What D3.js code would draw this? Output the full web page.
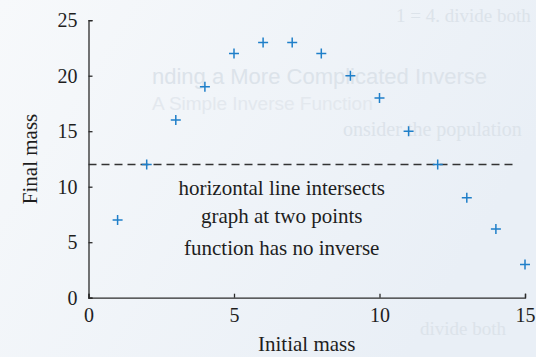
<!DOCTYPE html>
<html>
<head>
<meta charset="utf-8">
<script src="https://cdn.jsdelivr.net/npm/d3@7"></script>
<style>
  html, body { margin: 0; padding: 0; background: #f1f4f8; }
  svg { display: block; }
</style>
</head>
<body>
<svg id="chart" width="536" height="357"></svg>
<script>
// Initial mass vs. final mass for the population model
const initialMass = [1, 2, 3, 4, 5, 6, 7, 8, 9, 10, 11, 12, 13, 14, 15];
const finalMass   = [7, 12, 16, 19, 22, 23, 23, 22, 20, 18, 15, 12, 9, 6.2, 3];

const xTicks = [0, 5, 10, 15];
const yTicks = [0, 5, 10, 15, 20, 25];

// horizontal test line
const lineLevel = 12;
const lineSpan = [0, 14.7];

const notes = [
  "horizontal line intersects",
  "graph at two points",
  "function has no inverse"
];

const W = 536, H = 357;
const margin = { top: 20.2, right: 11, bottom: 59.3, left: 88.5 };

const svg = d3.select("#chart");

// paper background
const defs = svg.append("defs");
const grad = defs.append("linearGradient").attr("id", "paper")
  .attr("x1", "0").attr("y1", "0").attr("x2", "1").attr("y2", "0.4");
grad.append("stop").attr("offset", "0").attr("stop-color", "#f7f9fb");
grad.append("stop").attr("offset", "1").attr("stop-color", "#e9eff6");
svg.append("rect").attr("width", W).attr("height", H).attr("fill", "url(#paper)");

// faint print showing through from the facing page
const ghost = svg.append("g").attr("fill", "#dce3ea").attr("pointer-events", "none");
ghost.append("text").attr("x", 396).attr("y", 22)
  .attr("font-family", "Liberation Serif").attr("font-size", 19)
  .text("1 = 4.   divide both");
ghost.append("text").attr("x", 152).attr("y", 84)
  .attr("font-family", "Liberation Sans").attr("font-size", 22)
  .text("nding a More Complicated Inverse");
ghost.append("text").attr("x", 152).attr("y", 110)
  .attr("font-family", "Liberation Sans").attr("font-size", 19).attr("fill", "#e3e8ee")
  .text("A Simple Inverse Function");
ghost.append("text").attr("x", 343).attr("y", 136)
  .attr("font-family", "Liberation Serif").attr("font-size", 20)
  .text("onsider the population");
ghost.append("text").attr("x", 420).attr("y", 335)
  .attr("font-family", "Liberation Serif").attr("font-size", 19)
  .text("divide both");

const x = d3.scaleLinear().domain([0, 15]).range([margin.left, W - margin.right]);
const y = d3.scaleLinear().domain([0, 25]).range([H - margin.bottom, margin.top]);

const ink = "#2b2b2b";
const font = "'Liberation Serif', 'Times New Roman', serif";

// axes with inward ticks
const xAxis = d3.axisBottom(x).tickValues(xTicks).tickFormat(d3.format("d"))
  .tickSizeInner(-4).tickSizeOuter(-4).tickPadding(10);
const yAxis = d3.axisLeft(y).tickValues(yTicks).tickFormat(d3.format("d"))
  .tickSizeInner(-4).tickSizeOuter(-4).tickPadding(11);

const gx = svg.append("g").attr("transform", `translate(0,${y(0)})`).call(xAxis);
const gy = svg.append("g").attr("transform", `translate(${x(0)},0)`).call(yAxis);

[gx, gy].forEach(g => {
  g.selectAll("path, line").attr("stroke", ink).attr("stroke-width", 1.3);
  g.selectAll("text").attr("fill", "#1e1e1e")
    .attr("font-family", font).attr("font-size", 20);
});

// axis titles
svg.append("text")
  .attr("x", x(7.5)).attr("y", 351)
  .attr("text-anchor", "middle")
  .attr("font-family", font).attr("font-size", 21).attr("fill", "#1e1e1e")
  .text("Initial mass");

svg.append("text")
  .attr("transform", `translate(37,${y(12.5)}) rotate(-90)`)
  .attr("text-anchor", "middle")
  .attr("font-family", font).attr("font-size", 21).attr("fill", "#1e1e1e")
  .text("Final mass");

// dashed horizontal line
svg.append("line")
  .attr("x1", x(lineSpan[0])).attr("x2", x(lineSpan[1]))
  .attr("y1", y(lineLevel)).attr("y2", y(lineLevel))
  .attr("stroke", "#333").attr("stroke-width", 1.3)
  .attr("stroke-dasharray", "8,5");

// plus markers
const plus = {
  draw(ctx, size) {
    const r = Math.sqrt(size) / 2;
    ctx.moveTo(-r, 0); ctx.lineTo(r, 0);
    ctx.moveTo(0, -r); ctx.lineTo(0, r);
  }
};
const symbol = d3.symbol().type(plus).size(100);

svg.append("g").selectAll("path")
  .data(initialMass.map((m, i) => [m, finalMass[i]]))
  .join("path")
  .attr("transform", d => `translate(${x(d[0])},${y(d[1])})`)
  .attr("d", symbol)
  .attr("fill", "none")
  .attr("stroke", "#1f7fc9")
  .attr("stroke-width", 1.5);

// annotations
const noteY = [9.25, 6.73, 3.85];
svg.append("g").selectAll("text")
  .data(notes)
  .join("text")
  .attr("x", x(6.64))
  .attr("y", (d, i) => y(noteY[i]))
  .attr("text-anchor", "middle")
  .attr("font-family", font).attr("font-size", 21).attr("fill", "#1e1e1e")
  .text(d => d);
</script>
</body>
</html>
